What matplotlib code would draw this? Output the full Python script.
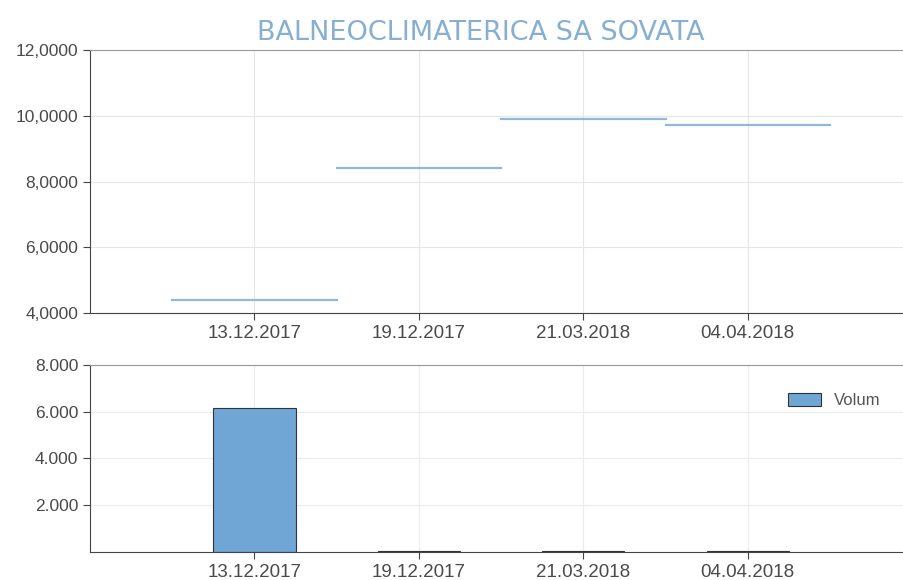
import numpy as np
import matplotlib.pyplot as plt
from matplotlib.ticker import FuncFormatter

# date categories and values
dates = ['13.12.2017', '19.12.2017', '21.03.2018', '04.04.2018']
pret = [4.40, 8.41, 9.90, 9.71]
volum = [6150, 40, 40, 40]

x = np.arange(1, len(dates) + 1)

plt.rcParams['font.family'] = ['Liberation Sans', 'DejaVu Sans']

fig = plt.figure(figsize=(9.04, 5.8), dpi=100)
ax1 = fig.add_axes([0.0996, 0.4603, 0.9004, 0.4535])
ax2 = fig.add_axes([0.0996, 0.0483, 0.9004, 0.3224])

# top: one flat segment per category
for xi, v in zip(x, pret):
    ax1.plot([xi - 0.5, xi + 0.5], [v, v], color='#8fb8dc', lw=1.6)
ax1.set_xlim(0, 4.95)
ax1.set_ylim(4, 12)
ax1.set_yticks([4, 6, 8, 10, 12])
ax1.yaxis.set_major_formatter(FuncFormatter(lambda v, p: f'{v:.4f}'.replace('.', ',')))
ax1.set_xticks(x)
ax1.set_xticklabels(dates)
ax1.grid(True, color='#e6e6e6', lw=0.8)
fig.text(0.532, 0.943, 'BALNEOCLIMATERICA SA SOVATA', color='#86afd2', fontsize=19.5,
         ha='center', va='center', fontfamily='DejaVu Sans')

# bottom: volume bars
ax2.bar(x, volum, width=0.5, color='#6fa6d6', edgecolor='#333333', lw=0.8, label='Volum')
ax2.set_xlim(0, 4.95)
ax2.set_ylim(0, 8000)
ax2.set_yticks([2000, 4000, 6000, 8000])
ax2.yaxis.set_major_formatter(FuncFormatter(lambda v, p: f'{int(v):,}'.replace(',', '.')))
ax2.set_xticks(x)
ax2.set_xticklabels(dates)
ax2.grid(True, color='#ececec', lw=0.8)
ax2.legend(loc='upper right', frameon=False, fontsize=12, handlelength=2.0,
           handleheight=0.8, bbox_to_anchor=(0.99, 0.93), labelcolor='#555555')

for ax in (ax1, ax2):
    ax.set_axisbelow(True)
    ax.spines['right'].set_visible(False)
    ax.spines['top'].set_color('#999999')
    ax.spines['left'].set_color('#444444')
    ax.spines['bottom'].set_color('#444444')
    ax.tick_params(colors='#444444', labelcolor='#4a4a4a', labelsize=12.5, length=5)
    ax.tick_params(axis='x', labelsize=13.5)

plt.savefig('out.png', dpi=100)
